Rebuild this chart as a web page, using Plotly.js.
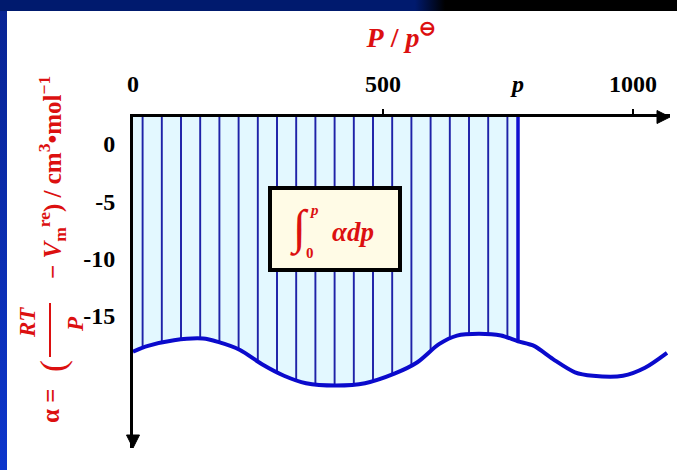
<!DOCTYPE html>
<html>
<head>
<meta charset="utf-8">
<script src="https://cdn.plot.ly/plotly-3.0.1.min.js"></script>
<style>
  html, body { margin: 0; padding: 0; width: 677px; height: 470px; overflow: hidden; background: #000; }
  #frame { position: absolute; left: 0; top: 0; width: 677px; height: 470px;
           background: linear-gradient(to right, #001a6e 0, #001a6e 415px, #000 445px); }
  #side  { position: absolute; left: 0; top: 11px; width: 7px; height: 459px;
           background: linear-gradient(to bottom, #082494, #0d36cc); }
  #chart { position: absolute; left: 7px; top: 11px; width: 670px; height: 459px; }
</style>
</head>
<body>
<div id="frame"></div>
<div id="side"></div>
<div id="chart"></div>
<script>
// alpha = RT/P - Vm(real) as a function of reduced pressure P/p⊖
const pressure = [0, 30, 82, 140, 170, 214, 258, 302, 346, 406, 464, 524, 568, 612, 648, 692, 736, 770, 802, 840, 884, 920, 980, 1024, 1068];
const alpha    = [-18.1, -17.6, -17.1, -16.95, -17.25, -17.95, -19.2, -20.2, -20.85, -21.05, -20.85, -20.0, -19.05, -17.45, -16.7, -16.55, -16.7, -17.2, -17.6, -18.75, -19.9, -20.2, -20.2, -19.5, -18.2];

// upper limit of the integral
const pUpper = 770;

const xTickVals = [0, 500, pUpper, 1000];
const xTickText = ['0', '500', '<i>p</i>', '1000'];
const xHookTicks = [500, 1000];
const yTickVals = [0, -5, -10, -15];
const yTickText = ['0', '-5', '-10', '-15'];

const xRange = [0, 1074];
const yRange = [-26.5, 2.354];

// figure geometry
const W = 670, H = 459;
const M = { l: 126, r: 7, t: 106, b: 22 };
const plotW = W - M.l - M.r, plotH = H - M.t - M.b;
const OFFX = 7, OFFY = 11;   // chart div offset inside the page frame
const fx = x => (x - OFFX - M.l) / plotW;
const fy = y => 1 - (y - OFFY - M.t) / plotH;

const RED = '#dc1010';
const SERIF = 'Liberation Serif, Times New Roman, serif';

// shaded area between the axis (top of the plot) and the curve, 0..p
const areaX = [], areaY = [];
pressure.forEach((p, i) => { if (p <= pUpper) { areaX.push(p); areaY.push(alpha[i]); } });
const alphaAtP = alpha[pressure.indexOf(pUpper)];
areaX.push(pUpper, 0);
areaY.push(yRange[1], yRange[1]);

const traces = [
  {
    x: areaX, y: areaY, type: 'scatter', mode: 'lines', fill: 'toself',
    line: { width: 0 }, fillcolor: '#e3f8ff',
    fillpattern: { shape: '|', size: 19.2, solidity: 0.1, fgcolor: '#1f22a8', bgcolor: '#e3f8ff' },
    hoverinfo: 'skip', showlegend: false
  },
  {
    x: [pUpper, pUpper], y: [alphaAtP, yRange[1]], type: 'scatter', mode: 'lines',
    line: { color: '#1010d0', width: 3.5 }, showlegend: false, hoverinfo: 'skip'
  },
  {
    x: pressure, y: alpha, type: 'scatter', mode: 'lines',
    line: { color: '#0a0acc', width: 4, shape: 'spline', smoothing: 0.8 },
    showlegend: false
  }
];

const tickFont = { family: SERIF, size: 24, color: '#000', weight: 'bold' };

function yLabel(text, x, y, size, extra) {
  return Object.assign({
    xref: 'paper', yref: 'paper', x: fx(x), y: fy(y), xanchor: 'center', yanchor: 'middle',
    text: text, showarrow: false, textangle: -90,
    font: { family: SERIF, size: size, color: RED, weight: 'bold' }
  }, extra || {});
}

const annotations = [
  // y axis title, written bottom to top
  yLabel('α =', 50, 406, 25),
  yLabel('(', 53, 366, 36, { font: { family: SERIF, size: 36, color: RED, weight: 'normal' } }),
  yLabel('<i>RT</i>', 27, 322, 23),
  yLabel('<i>P</i>', 75, 324, 23),
  yLabel('− <i>V</i><sub>m</sub><sup>re</sup>) / cm<sup>3</sup>•mol<sup>−1</sup>', 52, 178, 25),
  // integral label inside the box
  { xref: 'paper', yref: 'paper', x: fx(299), y: fy(228), xanchor: 'center', yanchor: 'middle',
    text: '∫', showarrow: false, font: { family: SERIF, size: 48, color: RED } },
  { xref: 'paper', yref: 'paper', x: fx(314), y: fy(210), xanchor: 'center', yanchor: 'middle',
    text: '<i>p</i>', showarrow: false, font: { family: SERIF, size: 15, color: RED, weight: 'bold' } },
  { xref: 'paper', yref: 'paper', x: fx(310), y: fy(253), xanchor: 'center', yanchor: 'middle',
    text: '0', showarrow: false, font: { family: SERIF, size: 15, color: RED, weight: 'bold' } },
  { xref: 'paper', yref: 'paper', x: fx(353), y: fy(232), xanchor: 'center', yanchor: 'middle',
    text: '<i>αdp</i>', showarrow: false, font: { family: SERIF, size: 27, color: RED, weight: 'bold' } }
];

// arrowheads at the ends of both axes (paper units, sized in pixels)
const ahLen = 13, ahHalf = 6.5;
const xTip = [fx(OFFX + M.l + plotW), fy(OFFY + M.t)];
const yTip = [fx(OFFX + M.l), fy(OFFY + M.t + plotH)];
function tri(a, b, c) { return `M${a[0]},${a[1]} L${b[0]},${b[1]} L${c[0]},${c[1]} Z`; }
const pxX = 1 / plotW, pxY = 1 / plotH;

const shapes = [
  { type: 'path', xref: 'paper', yref: 'paper', fillcolor: '#000', line: { color: '#000', width: 1 },
    path: tri(xTip, [xTip[0] - ahLen * pxX, xTip[1] + ahHalf * pxY], [xTip[0] - ahLen * pxX, xTip[1] - ahHalf * pxY]) },
  { type: 'path', xref: 'paper', yref: 'paper', fillcolor: '#000', line: { color: '#000', width: 1 },
    path: tri(yTip, [yTip[0] - ahHalf * pxX, yTip[1] + ahLen * pxY], [yTip[0] + ahHalf * pxX, yTip[1] + ahLen * pxY]) },
  // label box
  { type: 'rect', xref: 'paper', yref: 'paper', x0: fx(270), x1: fx(400), y0: fy(270), y1: fy(188),
    fillcolor: '#fffbe6', line: { color: '#000', width: 4 }, layer: 'above' },
  // fraction bar of RT/P
  { type: 'line', xref: 'paper', yref: 'paper', x0: fx(50), x1: fx(50), y0: fy(357), y1: fy(303),
    line: { color: RED, width: 2 } }
];

const layout = {
  width: W, height: H,
  margin: M,
  paper_bgcolor: '#ffffff', plot_bgcolor: '#ffffff',
  showlegend: false,
  xaxis: {
    range: xRange, side: 'top', showline: true, linecolor: '#000', linewidth: 3,
    showgrid: false, zeroline: false, ticks: '',
    tickmode: 'array', tickvals: xTickVals, ticktext: xTickText, tickfont: tickFont,
    ticklabelstandoff: 12,
    minor: { tickmode: 'array', tickvals: xHookTicks, ticks: 'outside', ticklen: 5, tickwidth: 2, tickcolor: '#000' },
    title: { text: '<i>P</i> / <i>p</i><sup>⊖</sup>', standoff: 16,
             font: { family: SERIF, size: 28, color: RED, weight: 'bold' } }
  },
  yaxis: {
    range: yRange, showline: true, linecolor: '#000', linewidth: 3,
    showgrid: false, zeroline: false, ticks: '',
    tickmode: 'array', tickvals: yTickVals, ticktext: yTickText, tickfont: tickFont,
    ticklabelstandoff: 10
  },
  annotations: annotations,
  shapes: shapes
};

Plotly.newPlot('chart', traces, layout, { displayModeBar: false, staticPlot: true });
</script>
</body>
</html>
